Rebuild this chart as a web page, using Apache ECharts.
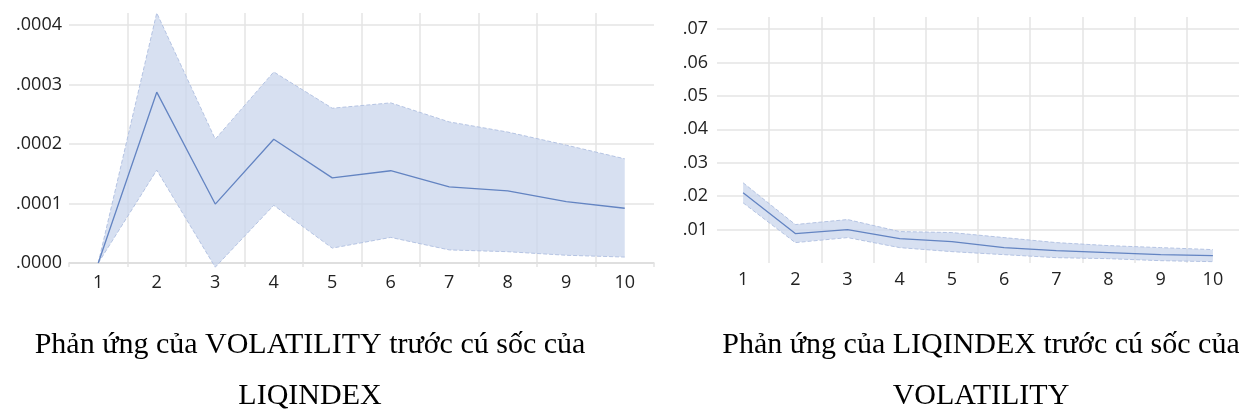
<!DOCTYPE html>
<html>
<head>
<meta charset="utf-8">
<script src="https://cdn.jsdelivr.net/npm/echarts@6/dist/echarts.min.js"></script>
<style>
  html, body { margin: 0; padding: 0; background: #fff; }
  #chart { width: 1239px; height: 414px; }
</style>
</head>
<body>
<div id="chart"></div>
<script>
(function () {
  'use strict';
  // thời kỳ
  var periods = ['1', '2', '3', '4', '5', '6', '7', '8', '9', '10'];

  // VOLATILITY trước cú sốc của LIQINDEX
  var volMid = [0, 0.000287, 0.000099, 0.000208, 0.000143, 0.000155, 0.000128, 0.000121, 0.000103, 0.000092];
  var volUp  = [0, 0.000420, 0.000208, 0.000321, 0.000260, 0.000269, 0.000237, 0.000220, 0.000198, 0.000175];
  var volLo  = [0, 0.000156, -0.000007, 0.000097, 0.000025, 0.000043, 0.000022, 0.000019, 0.000013, 0.000010];

  // LIQINDEX trước cú sốc của VOLATILITY
  var liqMid = [0.0210, 0.0088, 0.0100, 0.0073, 0.0064, 0.0046, 0.0037, 0.0031, 0.0025, 0.0022];
  var liqUp  = [0.0240, 0.0115, 0.0130, 0.0094, 0.0091, 0.0076, 0.0061, 0.0052, 0.0046, 0.0040];
  var liqLo  = [0.0180, 0.0061, 0.0076, 0.0046, 0.0034, 0.0025, 0.0016, 0.0013, 0.0007, 0.0004];

  var titles = [
    'Phản ứng của VOLATILITY trước cú sốc của\nLIQINDEX',
    'Phản ứng của LIQINDEX trước cú sốc của\nVOLATILITY'
  ];

  function diff(a, b) {
    return a.map(function (v, i) { return +(v - b[i]).toFixed(7); });
  }

  var gridColor = '#e4e4e4';
  var lineColor = '#6384c2';
  var bandColor = 'rgba(200, 212, 236, 0.72)';
  var edgeColor = '#b4c3e2';
  var labelFont = { fontFamily: 'Open Sans', fontSize: 18, color: '#222' };

  function xAxis(idx, withLine, margin) {
    return {
      type: 'category',
      gridIndex: idx,
      data: periods,
      boundaryGap: true,
      axisLine: { show: withLine, lineStyle: { color: '#dcdcdc', width: 1.5 } },
      axisTick: { show: withLine, length: 4, lineStyle: { color: gridColor, width: 1.5 } },
      axisLabel: Object.assign({ margin: margin }, labelFont),
      splitLine: { show: true, showMinLine: false, showMaxLine: false, lineStyle: { color: gridColor, width: 1.5 } }
    };
  }

  function bandSeries(idx, lo, up, mid, name) {
    return [{
      name: name + '-lo',
      type: 'line',
      xAxisIndex: idx, yAxisIndex: idx,
      data: lo,
      stack: name,
      stackStrategy: 'all',
      symbol: 'none',
      clip: false,
      lineStyle: { color: edgeColor, width: 1, type: 'dashed' },
      silent: true
    }, {
      name: name + '-band',
      type: 'line',
      xAxisIndex: idx, yAxisIndex: idx,
      data: diff(up, lo),
      stack: name,
      stackStrategy: 'all',
      symbol: 'none',
      clip: false,
      lineStyle: { color: edgeColor, width: 1, type: 'dashed' },
      areaStyle: { color: bandColor, opacity: 1 },
      silent: true
    }, {
      name: name,
      type: 'line',
      xAxisIndex: idx, yAxisIndex: idx,
      data: mid,
      symbol: 'none',
      clip: false,
      lineStyle: { color: lineColor, width: 1.3 }
    }];
  }

  var titleStyle = { fontFamily: 'Liberation Serif', fontSize: 30, fontWeight: 'normal', color: '#000', lineHeight: 51 };

  var myChart = echarts.init(document.getElementById('chart'));
  var option = {
    animation: false,
    grid: [
      { left: 69, top: 13, width: 585, height: 250 },
      { left: 717, top: 17, width: 535, height: 246 }
    ],
    xAxis: [xAxis(0, true, 11), xAxis(1, false, 8)],
    yAxis: [{
      type: 'value',
      gridIndex: 0,
      min: 0, max: 0.00042, interval: 0.0001,
      axisLine: { show: false }, axisTick: { show: false },
      axisLabel: Object.assign({
        margin: 7, showMaxLabel: false,
        formatter: function (v) { return v.toFixed(4).replace(/^0/, ''); }
      }, labelFont),
      splitLine: { showMaxLine: false, lineStyle: { color: gridColor, width: 1.5 } }
    }, {
      type: 'value',
      gridIndex: 1,
      min: 0, max: 0.0736, interval: 0.01,
      axisLine: { show: false }, axisTick: { show: false },
      axisLabel: Object.assign({
        margin: 9, showMaxLabel: false, showMinLabel: false,
        formatter: function (v) { return v.toFixed(2).replace(/^0/, ''); }
      }, labelFont),
      splitLine: { showMaxLine: false, showMinLine: false, lineStyle: { color: gridColor, width: 1.5 } }
    }],
    title: [{
      text: titles[0],
      left: 305, top: 315, textAlign: 'center',
      textStyle: titleStyle
    }, {
      text: titles[1],
      left: 976, top: 315, textAlign: 'center',
      textStyle: titleStyle
    }],
    series: bandSeries(0, volLo, volUp, volMid, 'vol')
      .concat(bandSeries(1, liqLo, liqUp, liqMid, 'liq'))
  };

  myChart.setOption(option);
  window.addEventListener('resize', function () {
    myChart.resize();
  });
})();
</script>
</body>
</html>
